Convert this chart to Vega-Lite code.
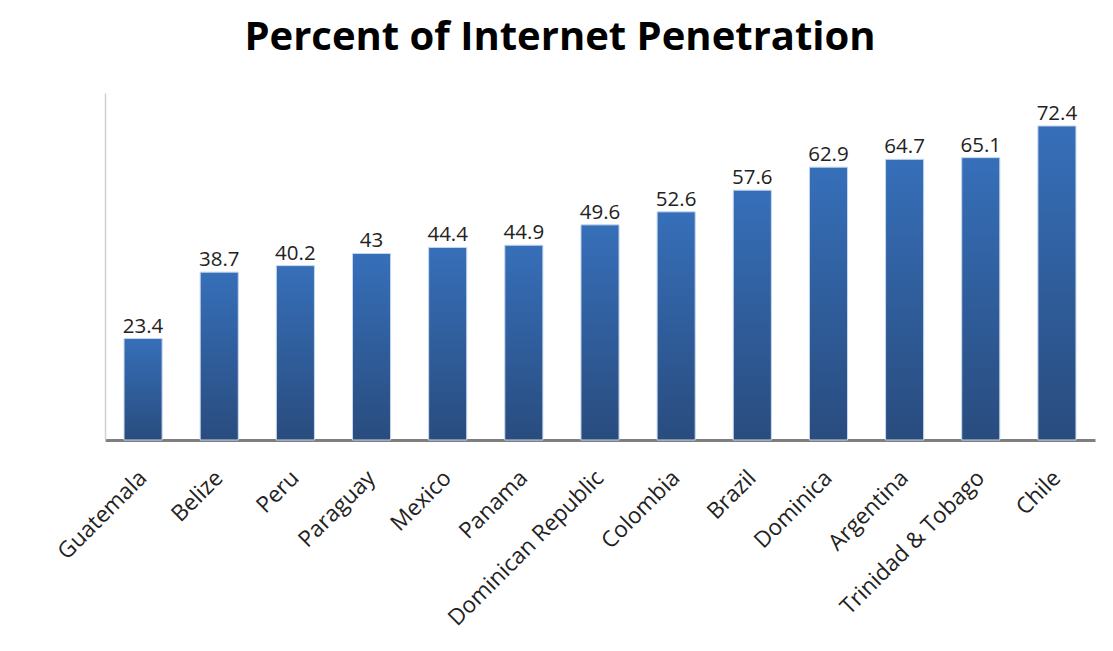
{
  "$schema": "https://vega.github.io/schema/vega-lite/v6.json",
  "width": 990,
  "height": 347,
  "autosize": "none",
  "padding": {"left": 105, "top": 93, "right": 18, "bottom": 211},
  "background": "white",
  "title": {
    "text": "Percent of Internet Penetration",
    "font": "Open Sans",
    "fontSize": 40,
    "fontWeight": "bold",
    "color": "#000000",
    "anchor": "middle",
    "dx": -40,
    "offset": 35
  },
  "data": {
    "values": [
      {"country": "Guatemala", "value": 23.4},
      {"country": "Belize", "value": 38.7},
      {"country": "Peru", "value": 40.2},
      {"country": "Paraguay", "value": 43},
      {"country": "Mexico", "value": 44.4},
      {"country": "Panama", "value": 44.9},
      {"country": "Dominican Republic", "value": 49.6},
      {"country": "Colombia", "value": 52.6},
      {"country": "Brazil", "value": 57.6},
      {"country": "Dominica", "value": 62.9},
      {"country": "Argentina", "value": 64.7},
      {"country": "Trinidad & Tobago", "value": 65.1},
      {"country": "Chile", "value": 72.4}
    ]
  },
  "config": {"view": {"stroke": null}},
  "encoding": {
    "x": {
      "field": "country",
      "type": "nominal",
      "sort": null,
      "scale": {"paddingInner": 0.5, "paddingOuter": 0.25},
      "axis": {
        "title": null,
        "labelAngle": -45,
        "labelAlign": "right",
        "labelBaseline": "middle",
        "labelFont": "Open Sans",
        "labelFontSize": 22.5,
        "labelColor": "#222222",
        "labelPadding": 34,
        "labelLimit": 400,
        "ticks": false,
        "domainColor": "#7f7f7f",
        "domainWidth": 3,
        "grid": false
      }
    },
    "y": {
      "field": "value",
      "type": "quantitative",
      "scale": {"domain": [0, 80], "nice": false},
      "axis": {
        "title": null,
        "labels": false,
        "ticks": false,
        "grid": false,
        "domainColor": "#d0d0d0",
        "domainWidth": 1.5
      }
    }
  },
  "layer": [
    {
      "mark": {
        "type": "bar",
        "stroke": "#c6d6ec",
        "strokeWidth": 1,
        "color": {
          "gradient": "linear",
          "x1": 0, "y1": 0, "x2": 0, "y2": 1,
          "stops": [
            {"offset": 0, "color": "#366fb9"},
            {"offset": 1, "color": "#294c7e"}
          ]
        }
      }
    },
    {
      "mark": {
        "type": "text",
        "baseline": "bottom",
        "dy": -2,
        "font": "Open Sans",
        "fontSize": 20.5,
        "color": "#222222"
      },
      "encoding": {"text": {"field": "value", "type": "quantitative"}}
    }
  ]
}
